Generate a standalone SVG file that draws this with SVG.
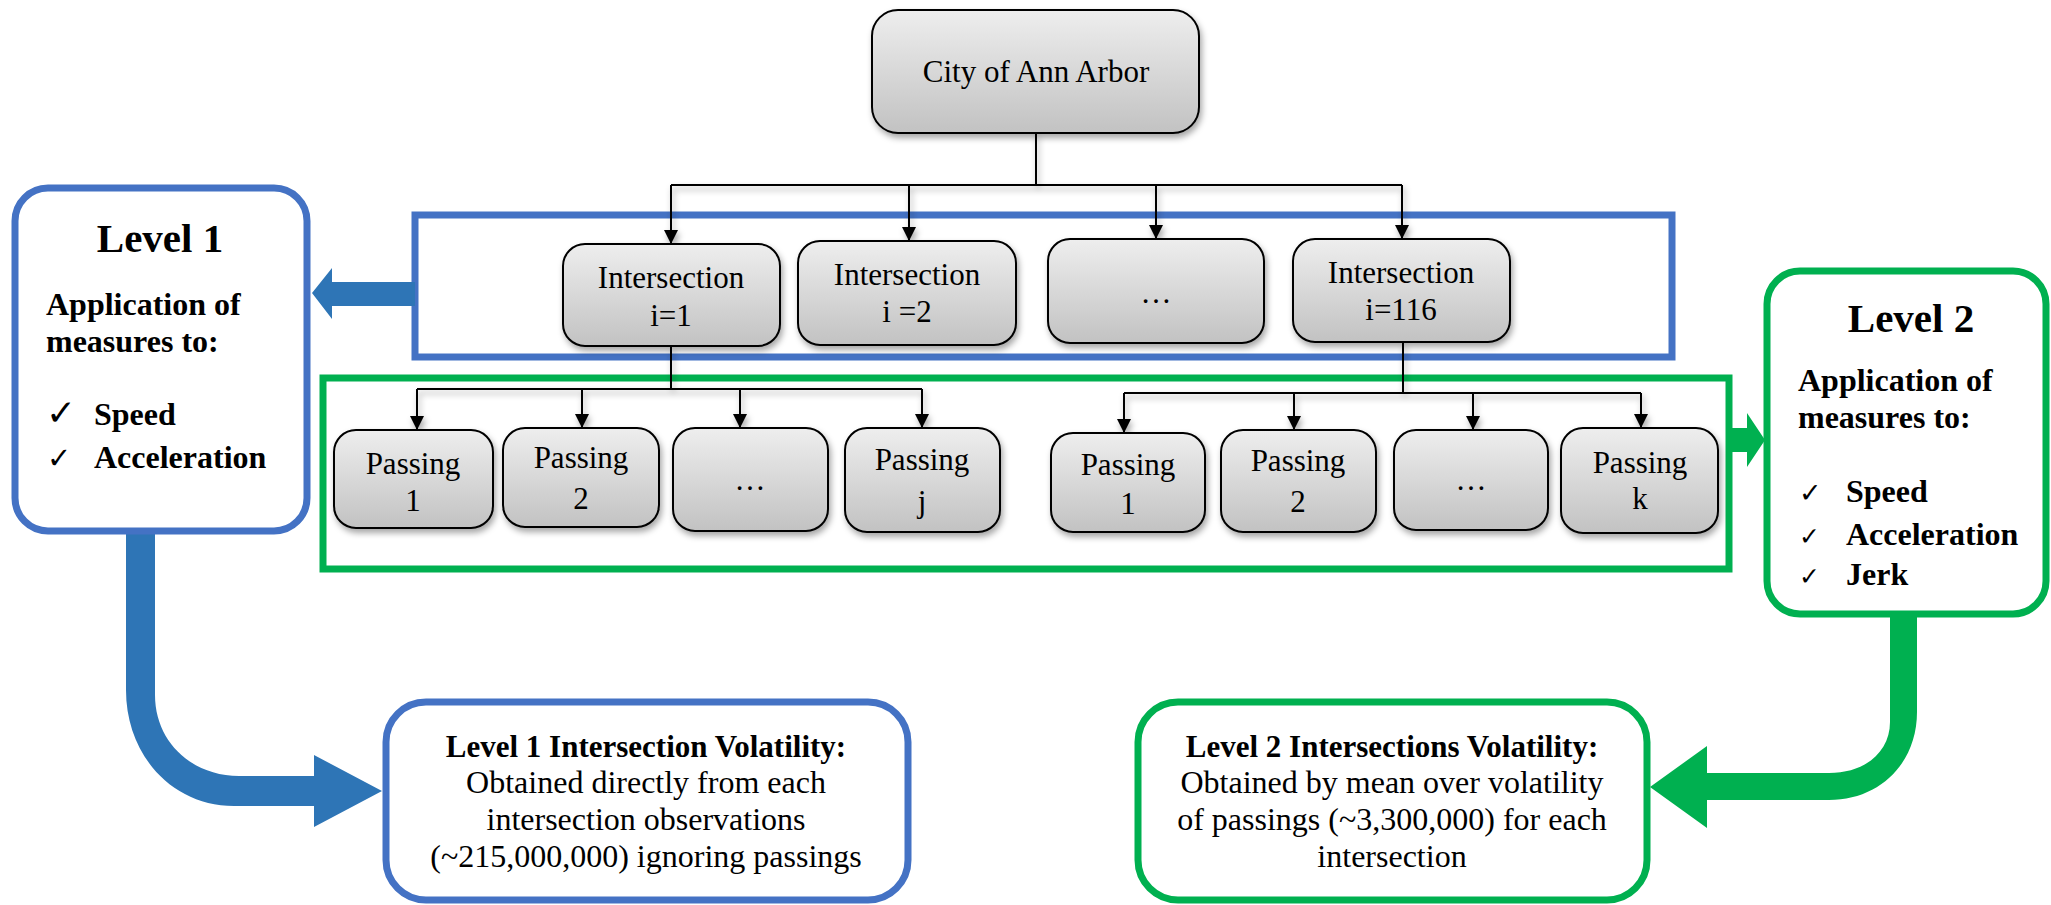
<svg xmlns="http://www.w3.org/2000/svg" width="2051" height="905" viewBox="0 0 2051 905">
<defs>
<linearGradient id="g" x1="0" y1="0" x2="0" y2="1">
<stop offset="0" stop-color="#EEEEEE"/>
<stop offset="1" stop-color="#C2C2C2"/>
</linearGradient>
<filter id="sh" x="-20%" y="-20%" width="150%" height="150%">
<feDropShadow dx="2" dy="4" stdDeviation="3" flood-color="#000" flood-opacity="0.35"/>
</filter>
<marker id="ah" markerWidth="14" markerHeight="14" refX="14" refY="7" orient="auto" markerUnits="userSpaceOnUse">
<path d="M0,0 L14,7 L0,14 Z" fill="#000"/>
</marker>
<style>
.n{fill:url(#g);stroke:#000;stroke-width:2;filter:url(#sh)}
.t{font-family:"Liberation Serif","Times New Roman",serif;font-size:31px;fill:#000;text-anchor:middle}
.b{font-family:"Liberation Serif","Times New Roman",serif;font-weight:bold;fill:#000}
.r{font-family:"Liberation Serif","Times New Roman",serif;fill:#000}
.ck{font-family:"DejaVu Sans",sans-serif;fill:#000}
.c{fill:none;stroke:#000;stroke-width:2}
.ca{fill:none;stroke:#000;stroke-width:2;marker-end:url(#ah)}
.bl{fill:#fff;stroke:#4472C4;stroke-width:7}
.gr{fill:#fff;stroke:#00B050;stroke-width:7}
</style>
</defs>
<rect width="2051" height="905" fill="#fff"/>

<g id="frames">
<rect x="415" y="215" width="1257" height="142" fill="none" stroke="#4472C4" stroke-width="7"/>
<rect x="323" y="378" width="1406" height="191" fill="none" stroke="#00B050" stroke-width="7"/>
</g>

<g id="connectors" filter="url(#sh)">
<path class="c" d="M1036,133 V185"/>
<path class="c" d="M671,185 H1402"/>
<path class="ca" d="M671,185 V244"/>
<path class="ca" d="M909,185 V241"/>
<path class="ca" d="M1156,185 V239"/>
<path class="ca" d="M1402,185 V239"/>
<path class="c" d="M671,346 V389"/>
<path class="c" d="M417,389 H922"/>
<path class="ca" d="M417,389 V430"/>
<path class="ca" d="M582,389 V428"/>
<path class="ca" d="M740,389 V428"/>
<path class="ca" d="M922,389 V428"/>
<path class="c" d="M1403,342 V393"/>
<path class="c" d="M1124,393 H1641"/>
<path class="ca" d="M1124,393 V433"/>
<path class="ca" d="M1294,393 V430"/>
<path class="ca" d="M1473,393 V430"/>
<path class="ca" d="M1641,393 V428"/>
</g>

<g id="arrows">
<path d="M415,282 L332,282 L332,268 L312,293 L332,319 L332,306 L415,306 Z" fill="#2E75B6"/>
<path d="M126,533 L126,690 C126,755 172,806 234,806 L314,806 L314,827 L382,791 L314,755 L314,776 L239,776 C192,776 155,742 155,695 L155,533 Z" fill="#2E75B6"/>
<path d="M1729,428 L1747,428 L1747,413 L1765,440 L1747,467 L1747,452 L1729,452 Z" fill="#00B050"/>
<path d="M1890,616 L1917,616 L1917,712 C1917,763 1880,800 1829,800 L1707,800 L1707,828 L1650,787 L1707,746 L1707,773 L1829,773 C1865,773 1890,752 1890,722 Z" fill="#00B050"/>
</g>

<g id="city">
<rect class="n" x="872" y="10" width="327" height="123" rx="26"/>
<text class="t" x="1036" y="82">City of Ann Arbor</text>
</g>

<g id="int1">
<rect class="n" x="563" y="244" width="217" height="102" rx="22"/>
<text class="t" x="671" y="288">Intersection</text>
<text class="t" x="671" y="326">i=1</text>
</g>
<g id="int2">
<rect class="n" x="798" y="241" width="218" height="104" rx="22"/>
<text class="t" x="907" y="285">Intersection</text>
<text class="t" x="907" y="322">i =2</text>
</g>
<g id="int3">
<rect class="n" x="1048" y="239" width="216" height="104" rx="22"/>
<text class="t" x="1156" y="303">…</text>
</g>
<g id="int116">
<rect class="n" x="1293" y="239" width="217" height="103" rx="22"/>
<text class="t" x="1401" y="283">Intersection</text>
<text class="t" x="1401" y="320">i=116</text>
</g>

<g id="pass1a">
<rect class="n" x="334" y="430" width="159" height="98" rx="22"/>
<text class="t" x="413" y="474">Passing</text>
<text class="t" x="413" y="511">1</text>
</g>
<g id="pass2a">
<rect class="n" x="503" y="428" width="156" height="99" rx="22"/>
<text class="t" x="581" y="468">Passing</text>
<text class="t" x="581" y="509">2</text>
</g>
<g id="pass3a">
<rect class="n" x="673" y="428" width="155" height="103" rx="22"/>
<text class="t" x="750" y="490">…</text>
</g>
<g id="passja">
<rect class="n" x="845" y="428" width="155" height="104" rx="22"/>
<text class="t" x="922" y="470">Passing</text>
<text class="t" x="922" y="512">j</text>
</g>

<g id="pass1b">
<rect class="n" x="1051" y="433" width="154" height="99" rx="22"/>
<text class="t" x="1128" y="475">Passing</text>
<text class="t" x="1128" y="514">1</text>
</g>
<g id="pass2b">
<rect class="n" x="1221" y="430" width="155" height="102" rx="22"/>
<text class="t" x="1298" y="471">Passing</text>
<text class="t" x="1298" y="512">2</text>
</g>
<g id="pass3b">
<rect class="n" x="1394" y="430" width="154" height="100" rx="22"/>
<text class="t" x="1471" y="490">…</text>
</g>
<g id="passkb">
<rect class="n" x="1561" y="428" width="157" height="105" rx="22"/>
<text class="t" x="1640" y="473">Passing</text>
<text class="t" x="1640" y="509">k</text>
</g>

<g id="level1">
<rect class="bl" x="15" y="188" width="292" height="343" rx="33"/>
<text class="b" x="160" y="252" font-size="41" text-anchor="middle">Level 1</text>
<text class="b" x="46" y="315" font-size="32">Application of</text>
<text class="b" x="46" y="352" font-size="32">measures to:</text>
<text class="ck" x="46" y="425" font-size="36">✓</text>
<text class="b" x="94" y="425" font-size="32">Speed</text>
<text class="ck" x="47" y="468" font-size="29">✓</text>
<text class="b" x="94" y="468" font-size="32">Acceleration</text>
</g>

<g id="level2">
<rect class="gr" x="1767" y="271" width="279" height="343" rx="33"/>
<text class="b" x="1911" y="332" font-size="41" text-anchor="middle">Level 2</text>
<text class="b" x="1798" y="391" font-size="32">Application of</text>
<text class="b" x="1798" y="428" font-size="32">measures to:</text>
<text class="ck" x="1799" y="502" font-size="27">✓</text>
<text class="b" x="1846" y="502" font-size="32">Speed</text>
<text class="ck" x="1799" y="545" font-size="25">✓</text>
<text class="b" x="1846" y="545" font-size="32">Acceleration</text>
<text class="ck" x="1799" y="585" font-size="25">✓</text>
<text class="b" x="1846" y="585" font-size="32">Jerk</text>
</g>

<g id="vol1">
<rect class="bl" x="386" y="702" width="522" height="198" rx="40"/>
<text class="b" x="646" y="757" font-size="31" text-anchor="middle">Level 1 Intersection Volatility:</text>
<text class="r" x="646" y="793" font-size="32" text-anchor="middle">Obtained directly from each</text>
<text class="r" x="646" y="830" font-size="32" text-anchor="middle">intersection observations</text>
<text class="r" x="646" y="867" font-size="32" text-anchor="middle">(~215,000,000) ignoring passings</text>
</g>

<g id="vol2">
<rect class="gr" x="1138" y="702" width="509" height="198" rx="40"/>
<text class="b" x="1392" y="757" font-size="31" text-anchor="middle">Level 2 Intersections Volatility:</text>
<text class="r" x="1392" y="793" font-size="32" text-anchor="middle">Obtained by mean over volatility</text>
<text class="r" x="1392" y="830" font-size="32" text-anchor="middle">of passings (~3,300,000) for each</text>
<text class="r" x="1392" y="867" font-size="32" text-anchor="middle">intersection</text>
</g>
</svg>
